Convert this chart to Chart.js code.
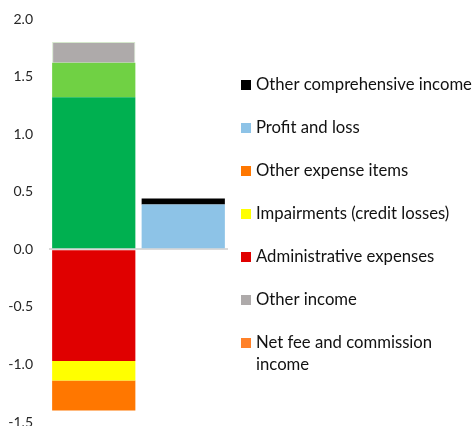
<!DOCTYPE html>
<html>
<head>
<meta charset="utf-8">
<script src="https://cdn.jsdelivr.net/npm/chart.js@4.4.1/dist/chart.umd.min.js"></script>
<style>
    html, body { margin: 0; padding: 0; background: #fff; }
    #wrap { width: 474px; height: 426px; }
</style>
</head>
<body>
<div id="wrap"><canvas id="myChart"></canvas></div>
<script>
// values
const categories = ['Income and expenses', 'Result'];
const netInterestIncome = [1.32, null];
const otherOperatingIncome = [0.30, null];
const netFeeIncome = [null, null];
const otherIncome = [0.18, null];
const adminExpenses = [-0.97, null];
const impairments = [-0.17, null];
const otherExpenseItems = [-0.26, null];
const profitAndLoss = [null, 0.39];
const otherComprehensiveIncome = [null, 0.05];
const yMin = -1.5;
const yMax = 2.0;
const yStep = 0.5;

// the built-in legend gets squeezed and clipped on the right, so draw it here
const sideLegend = {
    id: 'sideLegend',
    afterDraw(chart) {
        const c = chart.ctx;
        const x = chart.chartArea.right + 13;
        let y = 85;
        c.save();
        c.font = '16.7px Lato';
        c.textBaseline = 'middle';
        c.textAlign = 'left';
        chart.data.datasets.slice().reverse().forEach(ds => {
            if (ds.hideInLegend) return;
            c.fillStyle = ds.backgroundColor;
            c.fillRect(x, y - 5, 10, 10);
            c.fillStyle = '#111';
            ds.label.forEach((line, i) => c.fillText(line, x + 15, y + i * 22));
            y += 43;
        });
        c.restore();
    }
};

document.addEventListener('DOMContentLoaded', function() {
    const ctx = document.getElementById('myChart').getContext('2d');

    const data = {
        labels: categories,
        datasets: [
            { label: ['Net interest income'], data: netInterestIncome, backgroundColor: '#00B050', hideInLegend: true },
            { label: ['Other operating income'], data: otherOperatingIncome, backgroundColor: '#70D144', hideInLegend: true },
            { label: ['Net fee and commission', 'income'], data: netFeeIncome, backgroundColor: '#FF8129' },
            { label: ['Other income'], data: otherIncome, backgroundColor: '#AEAAAA', borderColor: '#D5E8CC', borderWidth: 1 },
            { label: ['Administrative expenses'], data: adminExpenses, backgroundColor: '#E00000' },
            { label: ['Impairments (credit losses)'], data: impairments, backgroundColor: '#FFFF00' },
            { label: ['Other expense items'], data: otherExpenseItems, backgroundColor: '#FF7700' },
            { label: ['Profit and loss'], data: profitAndLoss, backgroundColor: '#8DC3E7' },
            { label: ['Other comprehensive income'], data: otherComprehensiveIncome, backgroundColor: '#000000' }
        ]
    };

    const config = {
        type: 'bar',
        data: data,
        plugins: [sideLegend],
        options: {
            responsive: true,
            maintainAspectRatio: false,
            animation: false,
            // right padding leaves room for the legend
            layout: { padding: { top: 19, left: 8, bottom: 0, right: 246 } },
            datasets: {
                bar: { categoryPercentage: 1.0, barPercentage: 0.93 }
            },
            plugins: {
                tooltip: { enabled: false },
                legend: { display: false }
            },
            scales: {
                x: {
                    stacked: true,
                    display: false
                },
                y: {
                    stacked: true,
                    min: yMin,
                    max: yMax,
                    border: { display: false },
                    grid: {
                        drawTicks: false,
                        lineWidth: 2,
                        color: c => c.tick && c.tick.value === 0 ? '#D9D9D9' : 'transparent'
                    },
                    ticks: {
                        stepSize: yStep,
                        padding: 16,
                        color: '#262626',
                        font: { family: 'Lato', size: 14 },
                        callback: v => Number(v).toFixed(1)
                    },
                    afterFit: scale => {
                        scale.width = 41;
                        scale.paddingTop = 0;
                        scale.paddingBottom = 4;
                    }
                }
            }
        }
    };

    const myChart = new Chart(ctx, config);
});
</script>
</body>
</html>
